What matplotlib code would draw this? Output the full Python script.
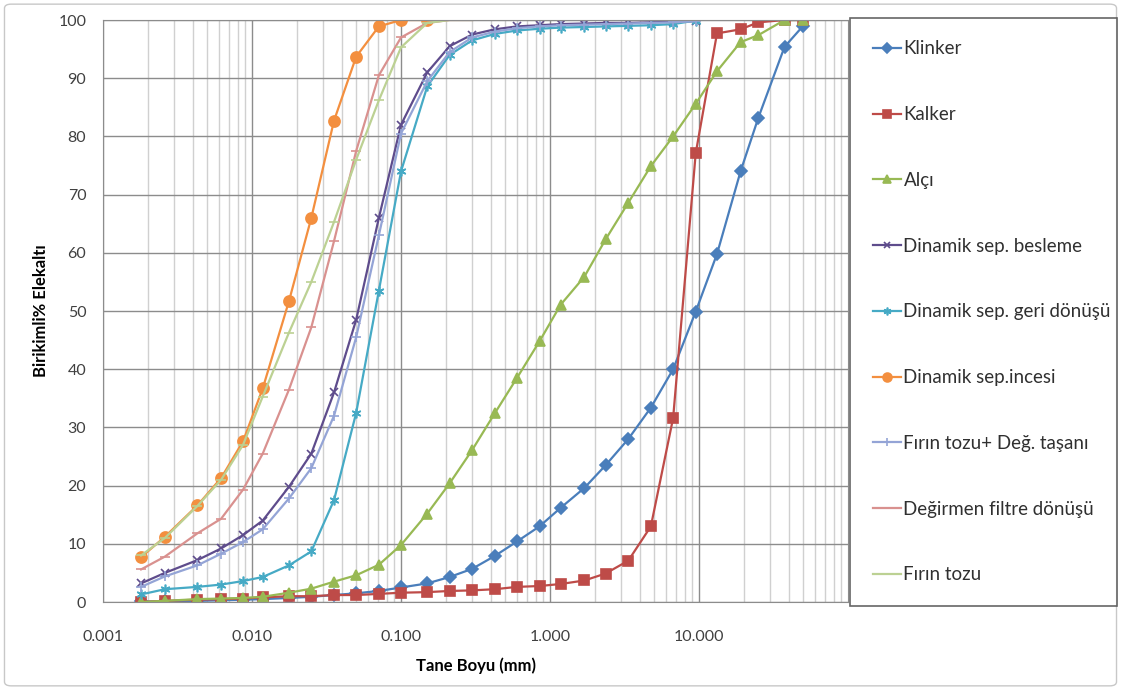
import numpy as np
import matplotlib
matplotlib.use("Agg")
import matplotlib.pyplot as plt
from matplotlib.patches import FancyBboxPatch

plt.rcParams["font.family"] = ["Lato", "DejaVu Sans"]

# sieve sizes (mm)
x_fine = [0.0018, 0.0026, 0.0043, 0.0062, 0.0087, 0.0118, 0.0177, 0.025,
          0.0355, 0.05, 0.071, 0.1]
x_coarse = [0.15, 0.212, 0.3, 0.425, 0.6, 0.85, 1.18, 1.7, 2.36, 3.35, 4.75,
            6.7, 9.5, 13.2, 19, 25, 37.5, 50]

klinker = [0.1, 0.1, 0.2, 0.3, 0.4, 0.5, 0.7, 0.9, 1.2, 1.5, 1.9, 2.5,
           3.2, 4.3, 5.7, 7.9, 10.4, 13.0, 16.2, 19.6, 23.5, 28.0, 33.4,
           40.0, 49.9, 59.8, 74.0, 83.2, 95.4, 99.0]
kalker = [0.0, 0.2, 0.4, 0.5, 0.6, 0.8, 1.0, 1.0, 1.2, 1.2, 1.4, 1.6,
          1.7, 1.9, 2.0, 2.2, 2.6, 2.75, 3.1, 3.7, 4.9, 7.1, 13.0, 31.6,
          77.1, 97.7, 98.4, 99.6, 100, 100]
alci = [0.0, 0.2, 0.5, 0.6, 0.7, 0.9, 1.6, 2.3, 3.5, 4.6, 6.4, 9.8,
        15.2, 20.4, 26.1, 32.4, 38.5, 44.8, 51.1, 55.9, 62.3, 68.6, 74.9,
        80.0, 85.6, 91.2, 96.2, 97.4, 100, 100]
besleme = [3.2, 5.0, 7.2, 9.2, 11.5, 14.0, 19.8, 25.5, 36.0, 48.5, 66.0, 82.0,
           91.0, 95.5, 97.5, 98.4, 98.9, 99.1, 99.3, 99.4, 99.5, 99.5, 99.6,
           99.7, 99.8]
geri = [1.3, 2.2, 2.6, 3.0, 3.6, 4.3, 6.3, 8.7, 17.5, 32.5, 53.5, 74.0,
        88.6, 94.0, 96.5, 97.6, 98.2, 98.5, 98.7, 98.8, 98.9, 99.0, 99.1,
        99.3, 99.9]
incesi = [7.7, 11.2, 16.6, 21.3, 27.6, 36.7, 51.7, 66.0, 82.7, 93.7, 98.9,
          100, 100]
firin_deg = [2.6, 4.4, 6.3, 8.3, 10.3, 12.5, 17.8, 23.0, 32.0, 45.5, 63.0, 80.5,
             89.5, 94.5, 97.0, 98.0, 98.6, 98.9, 99.1, 99.2, 99.3, 99.4, 99.5,
             99.6, 99.8]
filtre = [5.6, 7.8, 11.8, 14.3, 19.3, 25.5, 36.5, 47.2, 62.0, 77.5, 90.5, 97.0,
          99.5, 100, 100]
firin = [8.0, 11.0, 16.5, 21.0, 27.0, 35.3, 46.3, 55.0, 65.3, 76.0, 86.2, 95.3,
         99.5, 100, 100]

x_all = x_fine + x_coarse

series = [
    ("Klinker", x_all, klinker, "#4A7EBB", "D", 6),
    ("Kalker", x_all, kalker, "#BE4B48", "s", 7),
    ("Alçı", x_all, alci, "#98B954", "^", 7),
    ("Dinamik sep. besleme", x_all[:25], besleme, "#5E4C8C", "x", 6),
    ("Dinamik sep. geri dönüşü", x_all[:25], geri, "#46AAC5", (6, 2, 0), 7),
    ("Dinamik sep.incesi", x_all[:13], incesi, "#F38F3F", "o", 8),
    ("Fırın tozu+ Değ. taşanı", x_all[:25], firin_deg, "#94A4D6", "+", 7),
    ("Değirmen filtre dönüşü", x_all[:15], filtre, "#D9918F", "_", 7),
    ("Fırın tozu", x_all[:15], firin, "#BCD193", "_", 7),
]

fig = plt.figure(figsize=(11.21, 6.90), dpi=100)
fig.patches.append(FancyBboxPatch((0.004, 0.006), 0.992, 0.988,
                                  boxstyle="round,pad=0,rounding_size=0.006",
                                  transform=fig.transFigure, fill=False,
                                  edgecolor="#C8C8C8", linewidth=1.0))
ax = fig.add_axes([0.0919, 0.1275, 0.6646, 0.8435])

for label, xs, ys, col, mk, ms in series:
    ax.plot(xs, ys, color=col, lw=1.6, marker=mk, markersize=ms,
            markerfacecolor=col, markeredgecolor=col, markeredgewidth=1.2,
            label=label)

ax.set_xscale("log")
ax.set_xlim(0.001, 100)
ax.set_ylim(0, 100)
ax.set_yticks(np.arange(0, 101, 10))
ax.set_xticks([0.001, 0.01, 0.1, 1, 10])
ax.set_xticklabels(["0.001", "0.010", "0.100", "1.000", "10.000"])
ax.tick_params(axis="both", which="both", length=0, labelsize=11.5,
               colors="#404040")
ax.tick_params(axis="x", pad=20)
ax.tick_params(axis="y", pad=12)

ax.grid(True, which="major", axis="both", color="#8C8C8C", lw=1.0)
ax.grid(True, which="minor", axis="x", color="#D0D0D0", lw=1.0)
ax.set_axisbelow(True)
for s in ax.spines.values():
    s.set_color("#8C8C8C")

ax.set_xlabel("Tane Boyu (mm)", fontsize=12, fontweight="bold", labelpad=10)
ax.set_ylabel("Birikimli% Elekaltı", fontsize=12, fontweight="bold",
              labelpad=7)

leg = fig.legend(loc="upper left",
                 bbox_to_anchor=(0.7583, 0.126, 0.2381, 0.848),
                 mode="expand", fontsize=13.5, frameon=True, fancybox=False,
                 handlelength=1.5, handletextpad=0.15, labelspacing=2.6,
                 borderpad=1.2, borderaxespad=0, markerscale=0.8)
leg.get_frame().set_edgecolor("#404040")
leg.get_frame().set_linewidth(1.2)
for t in leg.get_texts():
    t.set_color("#303030")

fig.savefig("out.png", dpi=100)
